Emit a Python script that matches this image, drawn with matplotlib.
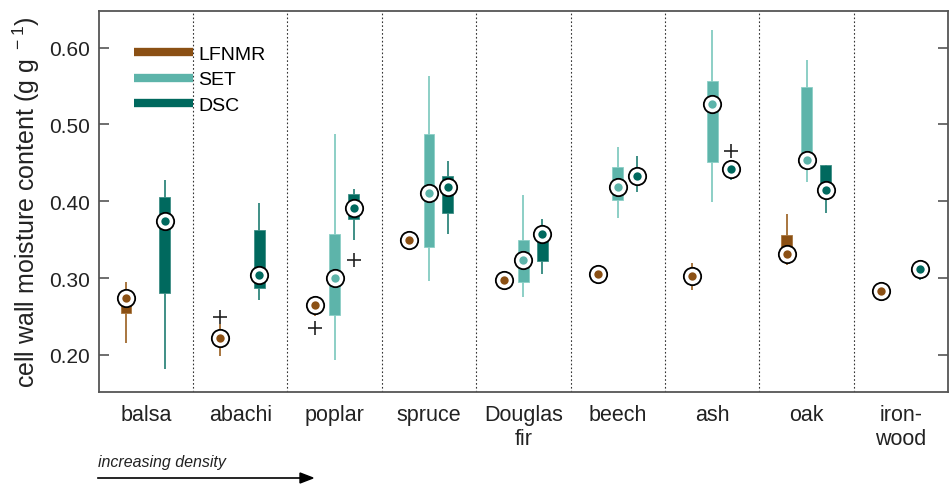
import numpy as np
import matplotlib.pyplot as plt
from matplotlib.lines import Line2D

plt.rcParams['font.family'] = ['Liberation Sans', 'DejaVu Sans']
plt.rcParams['mathtext.default'] = 'regular'

woods = ['balsa', 'abachi', 'poplar', 'spruce', 'Douglas\nfir', 'beech', 'ash', 'oak', 'iron-\nwood']
series = ['LFNMR', 'SET', 'DSC']

# median, lower quartile, upper quartile, lower whisker, upper whisker (nan = no data)
nan = np.nan
lfnmr_med = [0.274, 0.222, 0.265, 0.350, 0.298, 0.305, 0.303, 0.331, 0.283]
lfnmr_q1 = [0.255, 0.216, 0.260, 0.345, 0.295, 0.302, 0.297, 0.327, 0.279]
lfnmr_q3 = [0.279, 0.228, 0.270, 0.354, 0.301, 0.308, 0.309, 0.356, 0.287]
lfnmr_lo = [0.216, 0.198, 0.251, 0.336, 0.292, 0.300, 0.284, 0.317, 0.270]
lfnmr_hi = [0.295, 0.240, 0.272, 0.356, 0.303, 0.310, 0.319, 0.383, 0.290]

set_med = [nan, nan, 0.300, 0.411, 0.323, 0.418, 0.526, 0.454, nan]
set_q1 = [nan, nan, 0.2525, 0.341, 0.295, 0.402, 0.451, 0.444, nan]
set_q3 = [nan, nan, 0.357, 0.488, 0.350, 0.445, 0.557, 0.549, nan]
set_lo = [nan, nan, 0.193, 0.296, 0.275, 0.378, 0.399, 0.425, nan]
set_hi = [nan, nan, 0.487, 0.563, 0.408, 0.470, 0.623, 0.584, nan]

dsc_med = [0.374, 0.304, 0.391, 0.418, 0.358, 0.433, 0.442, 0.415, 0.312]
dsc_q1 = [0.281, 0.287, 0.377, 0.385, 0.322, 0.428, 0.437, 0.410, 0.308]
dsc_q3 = [0.406, 0.362, 0.409, 0.433, 0.362, 0.438, 0.446, 0.447, 0.316]
dsc_lo = [0.182, 0.272, 0.349, 0.358, 0.305, 0.412, 0.428, 0.385, 0.297]
dsc_hi = [0.427, 0.398, 0.416, 0.453, 0.377, 0.459, 0.450, 0.447, 0.318]

# outliers: (group index, value)
lfnmr_out = [(1, 0.250), (2, 0.235)]
set_out = []
dsc_out = [(2, 0.323), (6, 0.466)]

box_col = ['#8B5014', '#5DB4AA', '#00695E']
whisk_col = ['#A8763F', '#8CCFC6', '#3F8F86']
offsets = [-0.21, 0.0, 0.2]

stats = [
    (lfnmr_med, lfnmr_q1, lfnmr_q3, lfnmr_lo, lfnmr_hi, lfnmr_out),
    (set_med, set_q1, set_q3, set_lo, set_hi, set_out),
    (dsc_med, dsc_q1, dsc_q3, dsc_lo, dsc_hi, dsc_out),
]

fig = plt.figure(figsize=(9.53, 4.85), dpi=100)
ax = fig.add_axes([0.1035, 0.19, 0.8915, 0.786])

x = np.arange(1, len(woods) + 1)

for k, (med, q1, q3, lo, hi, out) in enumerate(stats):
    pos = x + offsets[k]
    med, q1, q3, lo, hi = map(np.array, (med, q1, q3, lo, hi))
    ok = ~np.isnan(med)
    ax.vlines(pos[ok], lo[ok], hi[ok], color=whisk_col[k], lw=1.4, zorder=2)
    ax.bar(pos[ok], q3[ok] - q1[ok], bottom=q1[ok], width=0.115,
           color=box_col[k], edgecolor=whisk_col[k], lw=0.6, zorder=3)
    ax.plot(pos[ok], med[ok], 'o', ms=12.5, mfc='white', mec='black', mew=1.3, zorder=4)
    ax.plot(pos[ok], med[ok], 'o', ms=6, mfc=box_col[k], mec='none', zorder=5)
    for g, v in out:
        ax.plot(pos[g], v, '+', ms=10, color='#222222', mew=1.2, zorder=4)

# dotted separators between the woods
for b in np.arange(1.5, len(woods), 1.0):
    ax.axvline(b, color='#333333', lw=0.8, ls=(0, (1.5, 2)), zorder=1)

ax.set_xlim(0.5, len(woods) + 0.5)
ax.set_ylim(0.152, 0.648)
ax.set_yticks([0.2, 0.3, 0.4, 0.5, 0.6])
ax.set_yticklabels(['0.20', '0.30', '0.40', '0.50', '0.60'])
ax.set_xticks(x)
ax.set_xticklabels(woods, linespacing=1.15, va='top')
ax.tick_params(axis='x', length=0, pad=9, labelsize=15.5, colors='#222222')
ax.tick_params(axis='y', direction='in', length=7, width=1.2, right=True, pad=6,
               labelsize=15, colors='#555555', labelcolor='#222222')
for s in ax.spines.values():
    s.set_color('#555555')
    s.set_linewidth(1.3)

ax.set_ylabel('cell wall moisture content (g g$^{\\ -1}$)', fontsize=18,
              color='#222222', labelpad=5)

handles = [Line2D([0], [0], color=c, lw=6, solid_capstyle='butt') for c in box_col]
ax.legend(handles, series, loc='upper left', bbox_to_anchor=(0.033, 0.93),
          frameon=False, fontsize=14, handlelength=3.0, handletextpad=0.3,
          labelspacing=0.42, borderaxespad=0.0)

fig.text(98 / 953, 1 - 463 / 485, 'increasing density', style='italic',
         fontsize=11.5, color='#222222', va='center', ha='left')
fig.add_artist(plt.Line2D([98 / 953, 303 / 953], [1 - 479 / 485, 1 - 479 / 485],
                          color='black', lw=1.2))
fig.patches.append(plt.Polygon([[300 / 953, 1 - 474 / 485], [313 / 953, 1 - 479 / 485],
                                [300 / 953, 1 - 484 / 485]], closed=True,
                               color='black', transform=fig.transFigure, figure=fig))

fig.savefig('out.png', dpi=100)
